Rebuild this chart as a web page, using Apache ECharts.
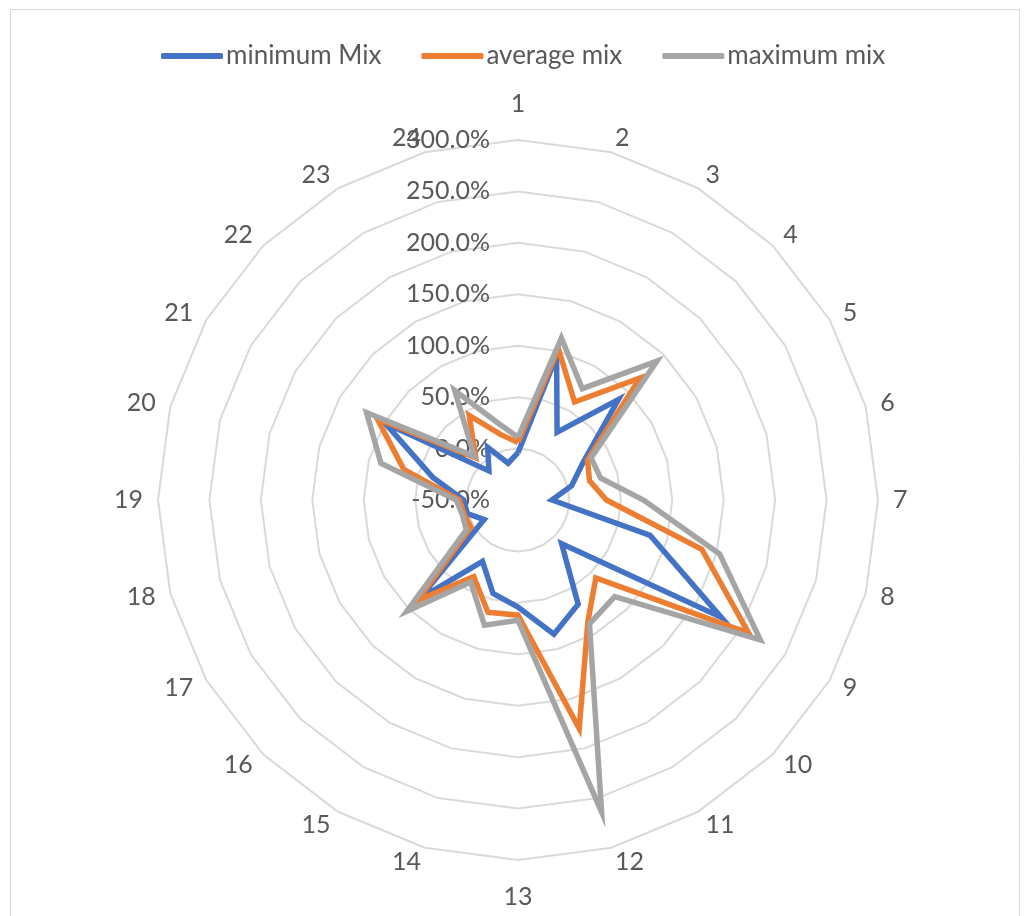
<!DOCTYPE html>
<html>
<head>
<meta charset="utf-8">
<script src="https://cdn.jsdelivr.net/npm/echarts@6/dist/echarts.min.js"></script>
<style>
html, body { margin: 0; padding: 0; background: #fff; }
#chart { width: 1025px; height: 916px; }
</style>
</head>
<body>
<div id="chart"></div>
<script>
// Categories around the radar, clockwise from the top
const categories = ['1','2','3','4','5','6','7','8','9','10','11','12',
                    '13','14','15','16','17','18','19','20','21','22','23','24'];

// Series values in percent
const minimumMix = [-4, 95, 26, 88, 23, 4, -17, 83, 178, 10, 67, 85,
                    54, 44, 19, 86, -12, 1, 3, 36, 99, -10, 9, -13];
const averageMix = [6, 102, 60, 118, 28, 22, 36, 135, 209, 57, 86, 180,
                    62, 63, 36, 88, 3, 4, 7, 65, 108, 8, 45, 16];
const maximumMix = [11, 113, 75, 141, 32, 33, 72, 153, 222, 83, 89, 264,
                    67, 76, 42, 103, 8, 6, 10, 88, 120, 10, 73, 28];

const seriesNames = ['minimum Mix', 'average mix', 'maximum mix'];
const seriesColors = ['#4472C4', '#ED7D31', '#A5A5A5'];

// Radial value axis
const axisMin = -50;
const axisMax = 300;
const axisStep = 50;

const FONT = 'Lato, "Open Sans", sans-serif';
const TEXT = '#595959';

// ECharts lays radar indicators out counter-clockwise, so walk the
// categories backwards after the first one to get a clockwise ring.
const order = [0];
for (let i = categories.length - 1; i >= 1; i--) order.push(i);
const reorder = arr => order.map(i => arr[i]);

const indicator = order.map(i => ({
  name: categories[i],
  min: axisMin,
  max: axisMax,
  nameGap: (i % 12 === 0) ? 24 : 15,
  axisLabel: { show: i === 0 }
}));

const chart = echarts.init(document.getElementById('chart'), null, { renderer: 'canvas' });

chart.setOption({
  animation: false,
  backgroundColor: '#fff',
  graphic: [{
    type: 'rect',
    shape: { x: 10.5, y: 9.5, width: 1009, height: 930 },
    style: { fill: 'none', stroke: '#D9D9D9', lineWidth: 1 },
    silent: true
  }],
  legend: {
    top: 38,
    left: 156,
    itemWidth: 62,
    itemHeight: 6,
    itemGap: 40,
    icon: 'roundRect',
    textStyle: { color: TEXT, fontFamily: FONT, fontSize: 26, padding: [0, 0, 0, -2] },
    data: seriesNames
  },
  radar: {
    center: [518, 500],
    radius: 360,
    startAngle: 90,
    shape: 'polygon',
    splitNumber: (axisMax - axisMin) / axisStep,
    nameGap: 15,
    axisName: { color: TEXT, fontFamily: FONT, fontSize: 25 },
    axisLine: { show: false },
    axisTick: { show: false },
    splitLine: { lineStyle: { color: '#D9D9D9', width: 2 } },
    splitArea: { show: false },
    axisLabel: {
      show: false,
      color: TEXT,
      fontFamily: FONT,
      fontSize: 25,
      margin: 28,
      showMinLabel: true,
      showMaxLabel: true,
      formatter: v => Number(v).toFixed(1) + '%'
    },
    indicator: indicator
  },
  series: [{
    type: 'radar',
    symbol: 'none',
    silent: true,
    data: [minimumMix, averageMix, maximumMix].map((vals, k) => ({
      name: seriesNames[k],
      value: reorder(vals),
      lineStyle: { color: seriesColors[k], width: 5.5, join: 'miter' },
      itemStyle: { color: seriesColors[k] },
      areaStyle: null
    }))
  }]
});
</script>
</body>
</html>
